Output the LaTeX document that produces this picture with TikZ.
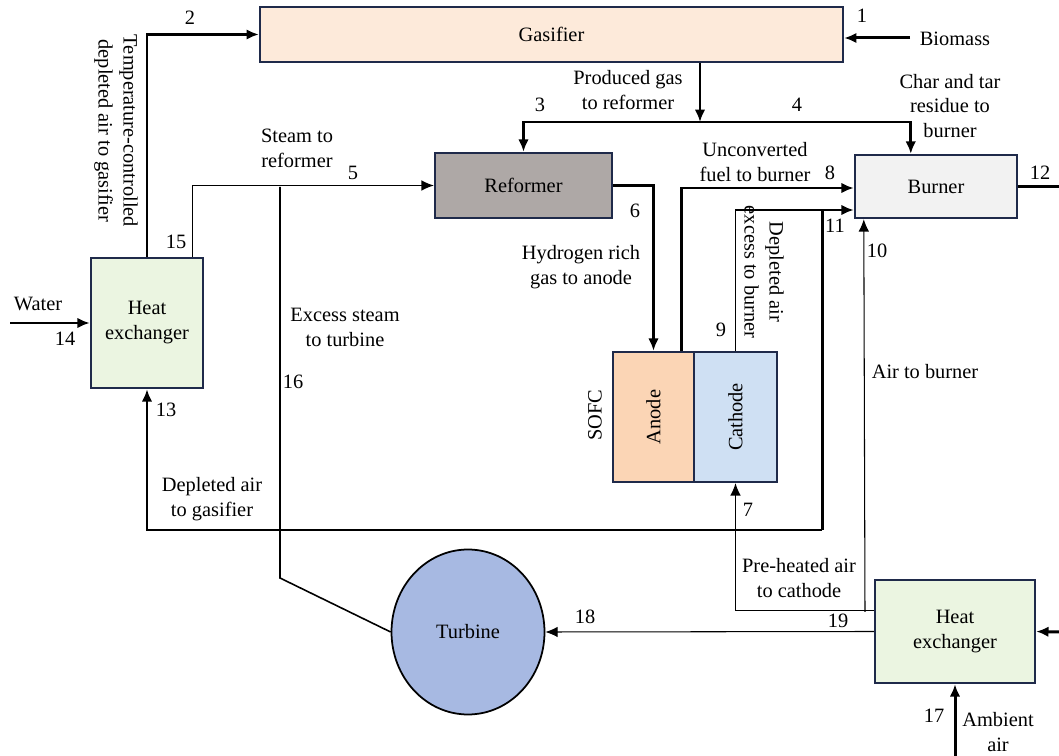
\documentclass[tikz,border=0pt]{standalone}
\usepackage{fontspec}
\setmainfont{Liberation Serif}
\usepackage{tikz}
\usepackage{xcolor}
\usetikzlibrary{
    arrows.meta,
    shapes.geometric,
    calc,
    positioning
}
\definecolor{edgenavy}{HTML}{1F2A4A}
\definecolor{gasfill}{HTML}{FDEADA}
\definecolor{reffill}{HTML}{AEA8A6}
\definecolor{burnfill}{HTML}{F2F2F2}
\definecolor{anfill}{HTML}{FBD5B5}
\definecolor{catfill}{HTML}{CFE0F3}
\definecolor{hxfill}{HTML}{EBF5E1}
\definecolor{turbfill}{HTML}{A7B9E2}
\tikzset{
    unit/.style={draw=edgenavy, line width=1.4pt, rectangle, inner sep=0pt, align=center},
    thk/.style={line width=1.7pt, -{Latex[length=7pt,width=6pt]}},
    thn/.style={line width=0.6pt, -{Latex[length=7pt,width=6pt]}},
    lbl/.style={inner sep=0pt, align=center}
}

\begin{document}
\begin{tikzpicture}[x=0.02cm, y=-0.02cm, font=\fontsize{11.6}{14.2}\selectfont]
                                \useasboundingbox (0, 0) rectangle (1059, 756);
                                \node[unit, fill=gasfill, minimum width=11.66cm, minimum height=1.1cm] (gas) at (551.5, 34.5) {Gasifier};
                                \node[unit, fill=reffill, minimum width=3.54cm, minimum height=1.3cm] (ref) at (523.5, 185.5) {Reformer};
                                \node[unit, fill=burnfill, minimum width=3.24cm, minimum height=1.26cm] (burn) at (936, 186.5) {Burner};
                                \node[unit, fill=hxfill, minimum width=2.24cm, minimum height=2.6cm] (hxa) at (147, 323) {Heat\\exchanger};
                                \node[unit, fill=hxfill, minimum width=3.2cm, minimum height=2.06cm] (hxb) at (955, 631.5) {Heat\\exchanger};
                                \node[unit, fill=anfill, minimum width=1.62cm, minimum height=2.6cm] (an) at (653.5, 417) {};
                                \node[unit, fill=catfill, minimum width=1.66cm, minimum height=2.6cm] (cat) at (735.5, 417) {};
                                \node[rotate=90] at (an) {Anode};
                                \node[rotate=90] at (cat) {Cathode};
                                \node[rotate=90, lbl] (sofc) at (595, 415) {SOFC};
                                \node[ellipse, draw, line width=1pt, fill=turbfill, minimum width=3.06cm, minimum height=3.3cm, inner sep=0pt] (turb) at (468, 632) {Turbine};

                                \coordinate (ibm) at (910, 38);
                                \coordinate (iw) at (10, 323);
                                \coordinate (jg) at (700, 122);
                                \coordinate (j16) at (280, 187);
                                \coordinate (k16) at (280, 578);
                                \coordinate (j11) at (822, 210);
                                \coordinate (jl) at (822, 530);
                                \coordinate (j10) at (865, 612);
                                \coordinate (o12) at (1059, 186.5);
                                \coordinate (i20) at (1059, 632);
                                \coordinate (i17) at (955, 756);

                                \draw[thk] (ibm) -- (ibm -| gas.east);
                                \draw[thk] (hxa.north) |- (gas.west);
                                \draw[thn] ($(hxa.north east)+(-12,0)$) |- (ref.west);
                                \draw[line width=0.9pt] (j16) -- (k16) -- (turb.west);
                                \draw[thk] (gas.south -| jg) -- (jg);
                                \draw[thk] (jg) -| (ref.north);
                                \draw[thk] (jg) -| ($(burn.north west)+(57,0)$);
                                \draw[thk] (ref.east) -| (an.north);
                                \draw[thk] ($(an.north east)+(-14,0)$) |- ($(burn.west)+(0,1.5)$);
                                \draw[line width=0.9pt] (cat.north) |- (j11);
                                \draw[thk] (jl) -- (j11) -- (j11 -| burn.west);
                                \draw[thk] (jl) -| (hxa.south);
                                \draw[thn] ($(hxb.north west)+(0,32)$) -| (cat.south);
                                \draw[thn] (j10) -- ($(burn.south west)+(10,0)$);
                                \draw[thn] (hxb.west) -- (turb.east);
                                \draw[line width=1.7pt] (burn.east) -- (o12);
                                \draw[thk] (i20) -- (hxb.east);
                                \draw[thk] (i17) -- (hxb.south);
                                \draw[thk] (iw) -- (hxa.west);

                                \node[lbl] (n1) at (862, 16) {1};
                                \node[lbl] (tbm) at (955, 39) {Biomass};
                                \node[lbl] (n2) at (190, 18) {2};
                                \node[lbl, rotate=-90] (t2) at (116, 131) {Temperature-controlled\\depleted air to gasifier};
                                \node[lbl] (tpg) at (628, 90) {Produced gas\\to reformer};
                                \node[lbl] (n3) at (540, 105) {3};
                                \node[lbl] (n4) at (797, 105) {4};
                                \node[lbl] (tct) at (950, 106) {Char and tar\\residue to\\burner};
                                \node[lbl] (tst) at (297, 148) {Steam to\\reformer};
                                \node[lbl] (n5) at (353, 173) {5};
                                \node[lbl] (tuf) at (755, 162) {Unconverted\\fuel to burner};
                                \node[lbl] (n8) at (830, 173) {8};
                                \node[lbl] (n6) at (635, 211) {6};
                                \node[lbl] (n11) at (835, 226) {11};
                                \node[lbl] (n10) at (877, 251) {10};
                                \node[lbl] (thr) at (581, 267) {Hydrogen rich\\gas to anode};
                                \node[lbl, rotate=-90] (tde) at (764, 272) {Depleted air\\excess to burner};
                                \node[lbl] (n15) at (176, 242) {15};
                                \node[lbl] (tw) at (38, 304) {Water};
                                \node[lbl] (n14) at (65, 339) {14};
                                \node[lbl] (tes) at (345, 327) {Excess steam\\to turbine};
                                \node[lbl] (n9) at (721, 330) {9};
                                \node[lbl] (tab) at (925, 372) {Air to burner};
                                \node[lbl] (n16) at (293, 382) {16};
                                \node[lbl] (n13) at (166, 410) {13};
                                \node[lbl] (tdg) at (212, 499) {Depleted air\\to gasifier};
                                \node[lbl] (n7) at (748, 510) {7};
                                \node[lbl] (tph) at (799, 578) {Pre-heated air\\to cathode};
                                \node[lbl] (n18) at (585, 617) {18};
                                \node[lbl] (n19) at (838, 621) {19};
                                \node[lbl] (n17) at (934, 716) {17};
                                \node[lbl] (tam) at (998, 732) {Ambient\\air};
                                \node[lbl] (n12) at (1040, 173) {12};
                            \end{tikzpicture}
\end{document}
